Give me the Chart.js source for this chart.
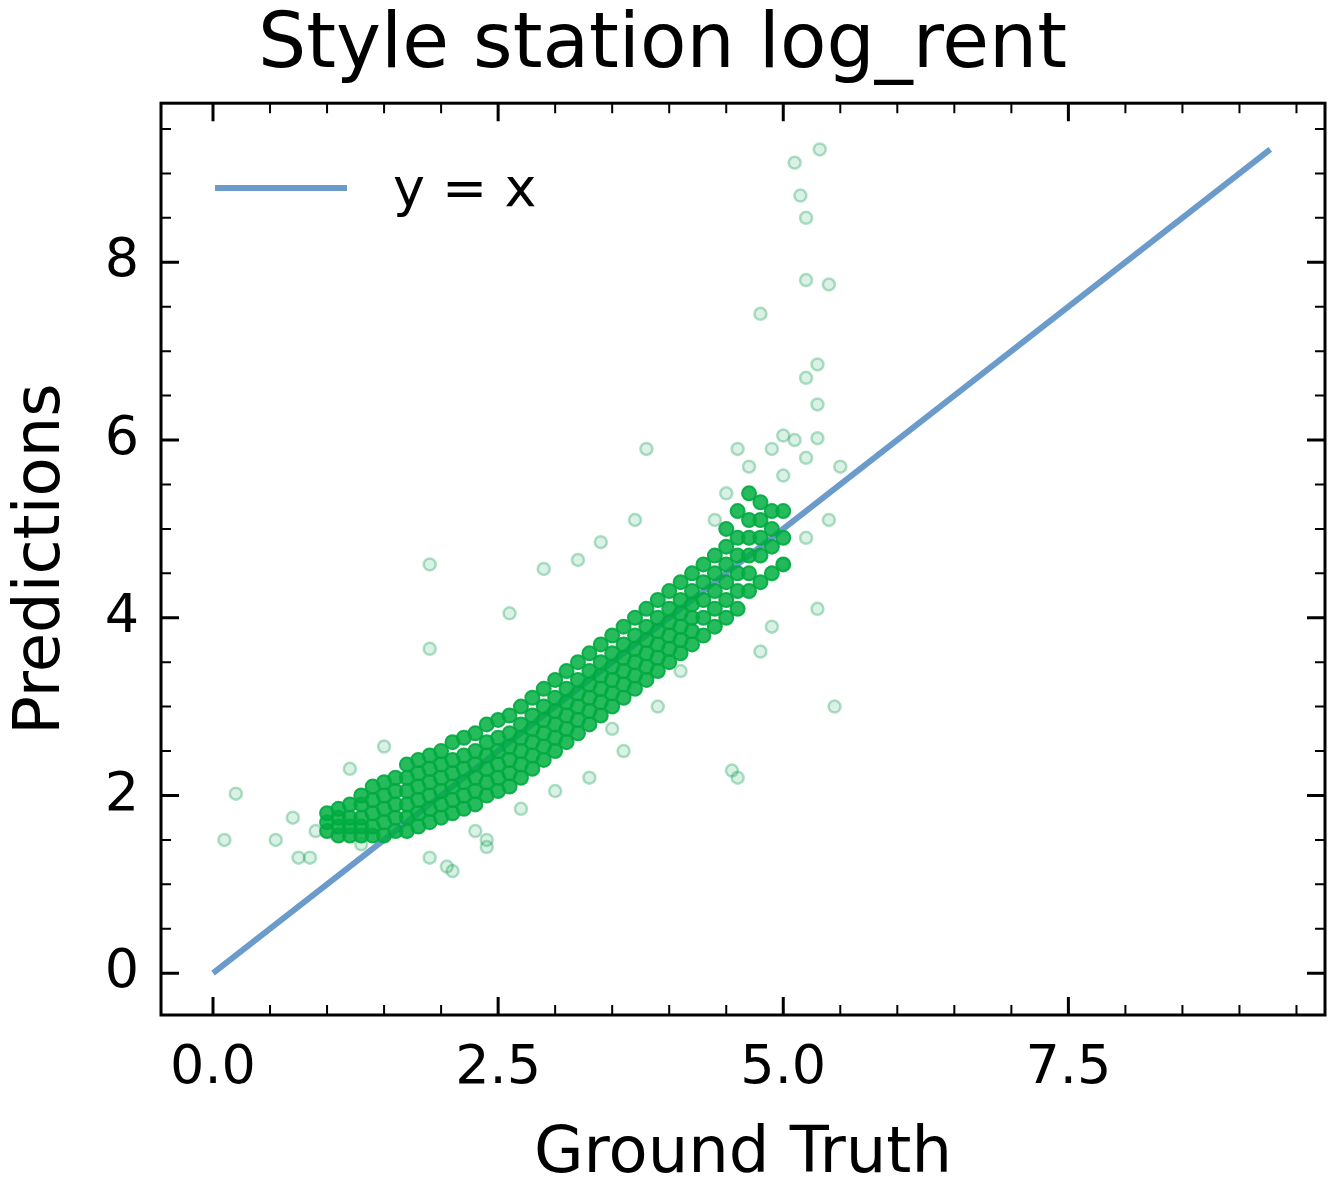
<!DOCTYPE html>
<html>
<head>
<meta charset="utf-8">
<script src="https://cdn.jsdelivr.net/npm/chart.js@4/dist/chart.umd.min.js"></script>
<style>
  html, body { margin: 0; padding: 0; background: #fff; }
  #wrap { width: 1339px; height: 1198px; }
</style>
</head>
<body>
<div id="wrap"><canvas id="c" width="1339" height="1198"></canvas></div>
<script>
// dense core: each row is [x, y, y, ...]
const coreRows = [
  [1.0, 1.6, 1.7, 1.8],
  [1.1, 1.55, 1.65, 1.75, 1.85],
  [1.2, 1.55, 1.65, 1.75, 1.9],
  [1.3, 1.55, 1.65, 1.75, 1.9, 2.0],
  [1.4, 1.55, 1.65, 1.8, 1.95, 2.1],
  [1.5, 1.55, 1.7, 1.85, 2.0, 2.15],
  [1.6, 1.6, 1.75, 1.9, 2.05, 2.2],
  [1.7, 1.6, 1.75, 1.9, 2.05, 2.2, 2.35],
  [1.8, 1.65, 1.8, 1.95, 2.1, 2.25, 2.4],
  [1.9, 1.7, 1.85, 2.0, 2.15, 2.3, 2.45],
  [2.0, 1.75, 1.9, 2.05, 2.2, 2.35, 2.5],
  [2.1, 1.8, 1.95, 2.1, 2.25, 2.4, 2.6],
  [2.2, 1.85, 2.0, 2.15, 2.3, 2.45, 2.65],
  [2.3, 1.9, 2.05, 2.2, 2.35, 2.5, 2.7],
  [2.4, 2.0, 2.15, 2.3, 2.45, 2.6, 2.8],
  [2.5, 2.05, 2.2, 2.35, 2.5, 2.65, 2.85],
  [2.6, 2.1, 2.25, 2.4, 2.55, 2.7, 2.9],
  [2.7, 2.2, 2.35, 2.5, 2.65, 2.8, 3.0],
  [2.8, 2.3, 2.45, 2.6, 2.75, 2.9, 3.1],
  [2.9, 2.4, 2.55, 2.7, 2.85, 3.0, 3.2],
  [3.0, 2.5, 2.65, 2.8, 2.95, 3.1, 3.3],
  [3.1, 2.6, 2.75, 2.9, 3.05, 3.2, 3.4],
  [3.2, 2.7, 2.85, 3.0, 3.15, 3.3, 3.5],
  [3.3, 2.8, 2.95, 3.1, 3.25, 3.4, 3.6],
  [3.4, 2.9, 3.05, 3.2, 3.35, 3.5, 3.7],
  [3.5, 3.0, 3.15, 3.3, 3.45, 3.6, 3.8],
  [3.6, 3.1, 3.25, 3.4, 3.55, 3.7, 3.9],
  [3.7, 3.2, 3.35, 3.5, 3.65, 3.8, 4.0],
  [3.8, 3.3, 3.45, 3.6, 3.75, 3.9, 4.1],
  [3.9, 3.4, 3.55, 3.7, 3.85, 4.0, 4.2],
  [4.0, 3.5, 3.65, 3.8, 3.95, 4.1, 4.3],
  [4.1, 3.6, 3.75, 3.9, 4.05, 4.2, 4.4],
  [4.2, 3.7, 3.85, 4.0, 4.15, 4.3, 4.5],
  [4.3, 3.8, 4.0, 4.2, 4.4, 4.6],
  [4.4, 3.9, 4.1, 4.3, 4.5, 4.7],
  [4.5, 4.0, 4.2, 4.4, 4.6, 4.8, 5.0],
  [4.6, 4.1, 4.3, 4.5, 4.7, 4.9, 5.2],
  [4.7, 4.3, 4.5, 4.7, 4.9, 5.1, 5.4],
  [4.8, 4.4, 4.7, 4.9, 5.1, 5.3],
  [4.9, 4.5, 4.8, 5.0, 5.2],
  [5.0, 4.6, 4.9, 5.2]
];

// scattered points outside the core
const outlierX = [0.2, 0.1, 0.55, 0.7, 0.75, 0.85, 0.9, 1.9, 1.9, 2.6, 2.9, 3.2, 3.4, 3.7, 3.8, 4.5, 4.6, 4.8, 5.1, 5.2,
  5.15, 5.32, 5.2, 5.4, 5.3, 5.2, 5.3, 5.3, 5.1, 5.2, 5.0, 5.5, 5.4, 5.3, 5.45, 4.8, 4.6, 4.55, 4.1, 3.9,
  3.3, 3.0, 2.1, 2.05, 2.4, 2.4, 1.9, 3.6, 3.5, 4.9, 5.0, 5.2, 4.9, 5.0, 4.7, 4.4, 2.3, 2.7, 1.3, 1.2, 1.5];
const outlierY = [2.02, 1.5, 1.5, 1.75, 1.3, 1.3, 1.6, 4.6, 3.65, 4.05, 4.55, 4.65, 4.85, 5.1, 5.9, 5.4, 5.9, 7.42, 9.12, 8.5,
  8.75, 9.27, 7.8, 7.75, 6.85, 6.7, 6.4, 6.02, 6.0, 5.8, 5.6, 5.7, 5.1, 4.1, 3.0, 3.62, 2.2, 2.28, 3.4, 3.0,
  2.2, 2.05, 1.15, 1.2, 1.5, 1.42, 1.3, 2.5, 2.75, 3.9, 4.6, 4.9, 5.9, 6.05, 5.7, 5.1, 1.6, 1.85, 1.45, 2.3, 2.55];

const lineX = [0, 9.27];
const xTicks = [0.0, 2.5, 5.0, 7.5];
const yTicks = [0, 2, 4, 6, 8];

const corePts = [];
coreRows.forEach(r => r.slice(1).forEach(y => corePts.push({x: r[0], y})));
const outPts = outlierX.map((x, i) => ({x, y: outlierY[i]}));
const linePts = lineX.map(v => ({x: v, y: v}));

const FONT = 'DejaVu Sans';

const frame = {
  id: 'frame',
  afterDraw(chart) {
    const {ctx, chartArea: a, scales: {x, y}} = chart;
    ctx.save();
    ctx.strokeStyle = '#000';
    ctx.lineWidth = 3;
    ctx.strokeRect(a.left, a.top, a.right - a.left, a.bottom - a.top);
    const tick = (px, major, horiz) => {
      const len = major ? 18 : 10;
      ctx.lineWidth = major ? 3 : 2;
      ctx.beginPath();
      if (horiz) {
        ctx.moveTo(px, a.bottom); ctx.lineTo(px, a.bottom - len);
        ctx.moveTo(px, a.top); ctx.lineTo(px, a.top + len);
      } else {
        ctx.moveTo(a.left, px); ctx.lineTo(a.left + len, px);
        ctx.moveTo(a.right, px); ctx.lineTo(a.right - len, px);
      }
      ctx.stroke();
    };
    for (let v = -0.5; v <= 9.75; v += 0.5) {
      const px = x.getPixelForValue(v);
      if (px < a.left || px > a.right) continue;
      tick(px, Math.abs(v / 2.5 - Math.round(v / 2.5)) < 1e-6, true);
    }
    for (let v = -0.5; v <= 9.75; v += 0.5) {
      const px = y.getPixelForValue(v);
      if (px < a.top || px > a.bottom) continue;
      tick(px, Math.abs(v / 2 - Math.round(v / 2)) < 1e-6, false);
    }
    // legend
    ctx.strokeStyle = 'rgba(70,130,190,0.8)';
    ctx.lineWidth = 6;
    ctx.beginPath();
    ctx.moveTo(215, 188); ctx.lineTo(347, 188);
    ctx.stroke();
    ctx.fillStyle = '#000';
    ctx.font = `54px ${FONT}`;
    ctx.textBaseline = 'middle';
    ctx.fillText(chart.data.datasets[2].label, 393, 192);
    ctx.restore();
  }
};

new Chart(document.getElementById('c'), {
  type: 'scatter',
  data: {
    datasets: [
      {
        label: 'core',
        data: corePts,
        pointRadius: 7,
        backgroundColor: 'rgba(0,175,65,0.85)',
        borderColor: 'rgba(0,170,65,0.9)',
        borderWidth: 2
      },
      {
        label: 'outliers',
        data: outPts,
        pointRadius: 6,
        backgroundColor: 'rgba(0,170,80,0.15)',
        borderColor: 'rgba(0,150,70,0.3)',
        borderWidth: 2.5
      },
      {
        label: 'y = x',
        type: 'line',
        data: linePts,
        borderColor: 'rgba(70,130,190,0.8)',
        borderWidth: 6,
        pointRadius: 0
      }
    ]
  },
  options: {
    responsive: false,
    animation: false,
    devicePixelRatio: 1,
    layout: { padding: { right: 14, top: 0 } },
    plugins: {
      legend: { display: false },
      tooltip: { enabled: false },
      title: {
        display: true,
        text: 'Style station log_rent',
        color: '#000',
        font: { family: FONT, size: 76, weight: 'normal' },
        padding: { top: 2, bottom: 10 }
      }
    },
    scales: {
      x: {
        type: 'linear', min: -0.456, max: 9.75,
        afterBuildTicks: s => { s.ticks = xTicks.map(v => ({value: v})); },
        afterFit: s => { s.height = 183; },
        ticks: { color: '#000', font: { family: FONT, size: 54 }, padding: 14, callback: v => v.toFixed(1), maxRotation: 0 },
        grid: { display: false },
        border: { display: false },
        title: { display: true, text: 'Ground Truth', color: '#000', font: { family: FONT, size: 64 }, padding: { top: 0 } }
      },
      y: {
        type: 'linear', min: -0.47, max: 9.79,
        afterBuildTicks: s => { s.ticks = yTicks.map(v => ({value: v})); },
        afterFit: s => { s.width = 161; },
        ticks: { color: '#000', font: { family: FONT, size: 54 }, padding: 14 },
        grid: { display: false },
        border: { display: false },
        title: { display: true, text: 'Predictions', color: '#000', font: { family: FONT, size: 64 }, padding: { bottom: 0 } }
      }
    }
  },
  plugins: [frame]
});
</script>
</body>
</html>
